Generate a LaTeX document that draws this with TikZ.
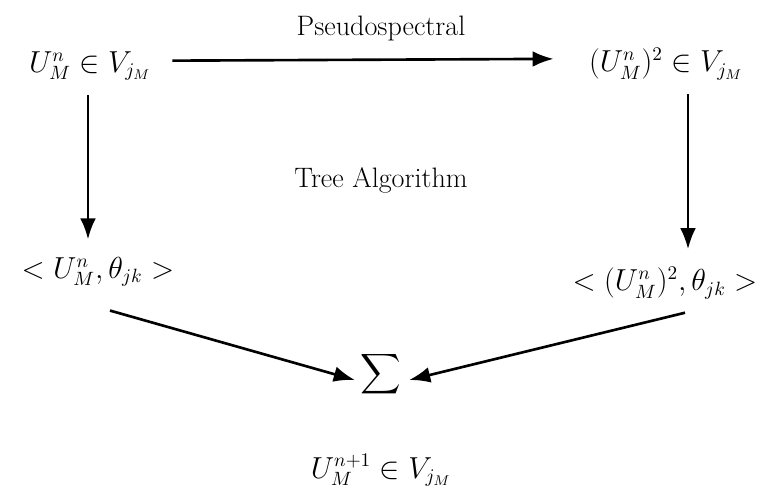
\documentclass[tikz,border=0pt]{standalone}
\usepackage{amsmath,amssymb}
\usepackage{tikz}
\usetikzlibrary{arrows.meta,calc}

\begin{document}
\begin{tikzpicture}[x=0.02cm,y=-0.02cm,line join=round,
  lbl/.style={inner sep=2pt,font=\fontsize{16}{19}\selectfont},
  arr/.style={line width=1.5pt,-{Latex[length=12pt,width=9pt]}}]
  % frame of the page, in pixel units
  \useasboundingbox (0,0) rectangle (760,498);
  \node[lbl] (u) at (90,66) {$U^n_M \in V_{j_M}$};
  \node[lbl] (usq) at (666,64) {$(U^n_M)^2 \in V_{j_M}$};
  \node[lbl] (ps) at (381,28) {Pseudospectral};
  \node[lbl] (tree) at (381,180) {Tree Algorithm};
  \node[lbl] (cu) at (98,272) {$<U^n_M,\theta_{jk}>$};
  \node[lbl] (cusq) at (665,283) {$<(U^n_M)^2,\theta_{jk}>$};
  \node[lbl] (sum) at (381,374) {$\displaystyle\sum$};
  \node[lbl] (next) at (381,470) {$U^{n+1}_M \in V_{j_M}$};
  \draw[arr,shorten <=10pt,shorten >=18pt] ([yshift=3pt]u.east) -- ([yshift=3pt]usq.west);
  \draw[arr,shorten <=6pt,shorten >=8pt] (u.south -| 88,0) -- (cu.north -| 88,0);
  \draw[arr,shorten <=6pt,shorten >=8pt] (usq.south -| 688,0) -- (cusq.north -| 688,0);
  \draw[arr] ($(cu.south)+(12,20)$) -- ($(sum.west)+(-2,6)$);
  \draw[arr] ($(cusq.south)+(20,10)$) -- ($(sum.east)+(4,6)$);
\end{tikzpicture}
\end{document}
